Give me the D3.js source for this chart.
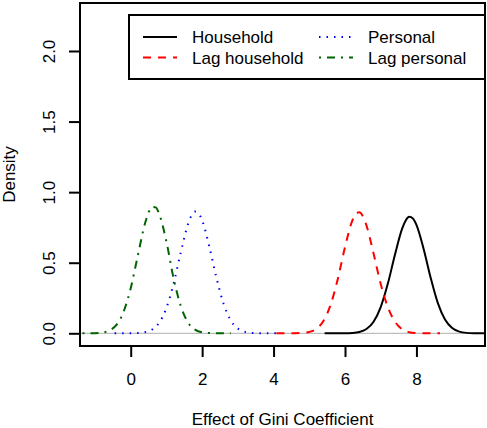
<!DOCTYPE html>
<html>
<head>
<meta charset="utf-8">
<script src="https://cdn.jsdelivr.net/npm/d3@7"></script>
<style>
  body { margin: 0; background: #fff; }
  svg text { font-family: "Liberation Sans", Arial, Helvetica, sans-serif; fill: #000; }
</style>
</head>
<body>
<svg></svg>
<script>
var width = 487;
var height = 428;

// density curves: [effect, density]
var household = [[5.43,0],[5.8,0.0001],[6.0,0.0005],[6.2,0.0024],[6.4,0.009],[6.6,0.030],[6.8,0.082],
  [7.0,0.186],[7.2,0.352],[7.4,0.558],[7.6,0.741],[7.7,0.799],[7.8,0.825],[7.9,0.813],[8.0,0.768],
  [8.2,0.599],[8.4,0.392],[8.6,0.214],[8.8,0.098],[9.0,0.038],[9.2,0.012],[9.4,0.003],[9.6,0.001],[10.2,0]];
var lagHousehold = [[4.08,0],[4.4,0.0001],[4.6,0.0005],[4.8,0.0023],[5.0,0.0095],[5.2,0.032],[5.4,0.089],
  [5.6,0.204],[5.8,0.387],[6.0,0.61],[6.2,0.795],[6.3,0.845],[6.4,0.857],[6.5,0.829],[6.6,0.765],
  [6.8,0.565],[7.0,0.35],[7.2,0.185],[7.4,0.082],[7.6,0.028],[7.8,0.008],[8.0,0.002],[8.2,0.0004],[8.66,0]];
var personal = [[-0.45,0],[0.0,0.0004],[0.2,0.002],[0.4,0.008],[0.6,0.027],[0.8,0.076],[1.0,0.18],
  [1.2,0.352],[1.4,0.571],[1.6,0.77],[1.7,0.833],[1.8,0.862],[1.9,0.849],[2.0,0.80],[2.2,0.615],
  [2.4,0.394],[2.6,0.209],[2.8,0.092],[3.0,0.034],[3.2,0.010],[3.4,0.0026],[3.6,0.0006],[4.1,0]];
var lagPersonal = [[-1.35,0],[-1.2,0.0002],[-1.0,0.001],[-0.8,0.005],[-0.6,0.019],[-0.4,0.059],[-0.2,0.152],
  [0.0,0.32],[0.2,0.552],[0.4,0.778],[0.5,0.856],[0.6,0.896],[0.7,0.892],[0.8,0.843],[1.0,0.649],
  [1.2,0.39],[1.4,0.195],[1.6,0.078],[1.8,0.026],[2.0,0.007],[2.2,0.002],[2.4,0.0004],[2.8,0]];

var xTicks = [0, 2, 4, 6, 8];
var yTicks = [0, 0.5, 1, 1.5, 2];
var yTickLabels = ["0.0", "0.5", "1.0", "1.5", "2.0"];
var legendLabels = ["Household", "Lag household", "Personal", "Lag personal"];

var series = [
  {data: household, color: "#000000", dash: null},
  {data: lagHousehold, color: "#ff0000", dash: "8,7"},
  {data: personal, color: "#0000ff", dash: "1.5,6"},
  {data: lagPersonal, color: "#006400", dash: "2,6,8,6"}
];

var plotL = 80, plotR = 485, plotT = 3, plotB = 346;

var svg = d3.select('svg')
            .attr('width', width)
            .attr('height', height);

// R style: limits padded by 4%
var x = d3.scaleLinear()
          .domain([-1 - 0.42, 9.5 + 0.42])
          .range([plotL, plotR]);
var y = d3.scaleLinear()
          .domain([-0.09, 2.25 + 0.09])
          .range([plotB, plotT]);

svg.append("clipPath").attr("id", "plotclip")
   .append("rect")
   .attr("x", plotL).attr("y", plotT)
   .attr("width", plotR - plotL).attr("height", plotB - plotT);

// gray zero line
svg.append("line")
   .attr("x1", plotL).attr("x2", plotR)
   .attr("y1", y(0)).attr("y2", y(0))
   .attr("stroke", "#bebebe")
   .attr("stroke-width", 1.2);

var line = d3.line()
             .x(d => x(d[0]))
             .y(d => y(d[1]))
             .curve(d3.curveMonotoneX);

svg.append("g")
   .attr("clip-path", "url(#plotclip)")
   .selectAll("path")
   .data(series)
   .enter()
   .append("path")
   .attr("d", d => line(d.data))
   .attr("fill", "none")
   .attr("stroke", d => d.color)
   .attr("stroke-width", 2)
   .attr("stroke-dasharray", d => d.dash);

// axes
var xAxis = svg.append("g")
   .attr("transform", "translate(0," + plotB + ")")
   .call(d3.axisBottom(x).tickValues(xTicks).tickSize(11).tickPadding(5).tickFormat(d3.format("d")));
var yAxis = svg.append("g")
   .attr("transform", "translate(" + plotL + ",0)")
   .call(d3.axisLeft(y).tickValues(yTicks).tickSize(11).tickFormat((d, i) => yTickLabels[i]));

[xAxis, yAxis].forEach(function(g) {
  g.select(".domain").remove();
  g.selectAll(".tick line").attr("stroke", "#000").attr("stroke-width", 2);
  g.selectAll(".tick text").style("font-size", "17px").attr("fill", "#000")
   .style("font-family", "'Liberation Sans', Arial, sans-serif");
});
xAxis.selectAll(".tick text").attr("dy", null).attr("y", 39);
yAxis.selectAll(".tick text")
     .attr("x", null).attr("dy", null)
     .attr("text-anchor", "middle")
     .attr("transform", "translate(-25,0) rotate(-90)");

// frame
svg.append("rect")
   .attr("x", plotL).attr("y", plotT)
   .attr("width", plotR - plotL).attr("height", plotB - plotT)
   .attr("fill", "none")
   .attr("stroke", "#000")
   .attr("stroke-width", 2);

// axis titles
svg.append("text")
   .attr("x", (plotL + plotR) / 2)
   .attr("y", 424.5)
   .attr("text-anchor", "middle")
   .style("font-size", "17px")
   .text("Effect of Gini Coefficient");
svg.append("text")
   .attr("transform", "translate(14.5," + ((plotT + plotB) / 2) + ") rotate(-90)")
   .attr("text-anchor", "middle")
   .style("font-size", "17px")
   .text("Density");

// legend
var legend = svg.append("g");
legend.append("rect")
      .attr("x", 129).attr("y", 15)
      .attr("width", plotR - 129).attr("height", 64)
      .attr("fill", "#fff")
      .attr("stroke", "#000")
      .attr("stroke-width", 2);

var legendPos = [[143, 37], [143, 57.5], [319, 37], [319, 57.5]];
series.forEach(function(s, i) {
  var p = legendPos[i];
  legend.append("line")
        .attr("x1", p[0]).attr("x2", p[0] + 34)
        .attr("y1", p[1]).attr("y2", p[1])
        .attr("stroke", s.color)
        .attr("stroke-width", 2)
        .attr("stroke-dasharray", s.dash);
  legend.append("text")
        .attr("x", p[0] + 49)
        .attr("y", p[1] + 6)
        .style("font-size", "17px")
        .text(legendLabels[i]);
});
</script>
</body>
</html>
